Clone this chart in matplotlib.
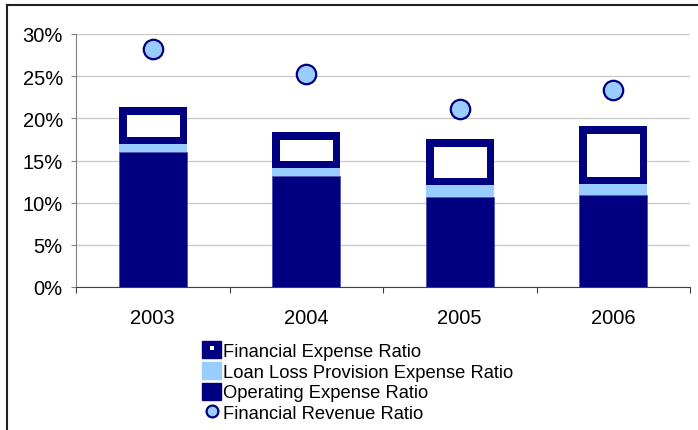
import matplotlib
matplotlib.use("Agg")
import matplotlib.pyplot as plt
from matplotlib.patches import Patch
from matplotlib.lines import Line2D
from matplotlib.legend_handler import HandlerTuple
from matplotlib.ticker import PercentFormatter, MultipleLocator, FixedLocator

plt.rcParams['font.family'] = ['Liberation Sans', 'DejaVu Sans']

years = ['2003', '2004', '2005', '2006']
operating = [16.0, 13.2, 10.65, 10.85]
loan_loss = [1.0, 0.9, 1.4, 1.35]
financial_expense = [4.4, 4.25, 5.5, 6.9]
financial_revenue = [28.2, 25.3, 21.1, 23.4]

NAVY = '#000080'
LIGHT = '#99CCFF'

fig = plt.figure(figsize=(6.98, 4.31), dpi=100)
ax = fig.add_axes([76/698, 1-288/431, (690-76)/698, (288-35)/431])

x = range(len(years))
w = 0.44
ax.bar(x, operating, width=w, color=NAVY, edgecolor='#5050B0', linewidth=0.6, zorder=3)
bottom2 = [o for o in operating]
ax.bar(x, loan_loss, width=w, bottom=bottom2, color=LIGHT, linewidth=0, zorder=3)
bottom3 = [o + l for o, l in zip(operating, loan_loss)]
bars = ax.bar(x, financial_expense, width=w, bottom=bottom3, facecolor='white',
              edgecolor=NAVY, linewidth=10.8, zorder=3)
for b in bars:
    b.set_clip_path(b)

ax.plot(x, financial_revenue, linestyle='none', marker='o', markersize=14,
        markerfacecolor=LIGHT, markeredgecolor=NAVY, markeredgewidth=1.6, zorder=4)

ax.set_xlim(-0.5, 3.5)
ax.set_ylim(0, 30)
ax.yaxis.set_major_locator(MultipleLocator(5))
ax.yaxis.set_major_formatter(PercentFormatter(decimals=0))
ax.set_xticks(list(x))
ax.set_xticklabels(years)
ax.xaxis.set_minor_locator(FixedLocator([-0.5, 0.5, 1.5, 2.5, 3.5]))
ax.tick_params(axis='x', which='major', length=0, pad=15, labelsize=14.5)
ax.tick_params(axis='x', which='minor', length=4, color='#404040', width=0.8)
ax.tick_params(axis='y', which='major', length=3.5, color='#808080', width=0.8, pad=6, labelsize=14.5)

ax.grid(axis='y', color='#C8C8C8', linewidth=0.9, zorder=0)
ax.set_axisbelow(True)
for s in ['top', 'right']:
    ax.spines[s].set_visible(False)
ax.spines['left'].set_color('#808080')
ax.spines['bottom'].set_color('#404040')
ax.spines['left'].set_linewidth(0.8)
ax.spines['bottom'].set_linewidth(0.8)

# outer frame (left & top visible)
fig.add_artist(Line2D([7.5/698, 7.5/698], [0, 1-6/431], color='#202020', linewidth=1.5, transform=fig.transFigure))
fig.add_artist(Line2D([7.5/698, 1], [1-6/431, 1-6/431], color='#202020', linewidth=1.5, transform=fig.transFigure))

h_fin = (Patch(facecolor=NAVY, edgecolor=NAVY),
         Line2D([], [], linestyle='none', marker='s', markersize=2.2, markerfacecolor='white', markeredgewidth=0))
h_loan = Patch(facecolor=LIGHT, edgecolor=LIGHT)
h_op = Patch(facecolor=NAVY, edgecolor=NAVY)
h_rev = Line2D([], [], linestyle='none', marker='o', markersize=8.5, markerfacecolor=LIGHT,
               markeredgecolor=NAVY, markeredgewidth=1.6)
fig.legend([h_fin, h_loan, h_op, h_rev],
           ['Financial Expense Ratio', 'Loan Loss Provision Expense Ratio',
            'Operating Expense Ratio', 'Financial Revenue Ratio'],
           handler_map={tuple: HandlerTuple(ndivide=1, pad=0)},
           loc='upper left', bbox_to_anchor=(202/698, 1-342/431), frameon=False,
           fontsize=13.2, handlelength=1.05, handleheight=1.05, handletextpad=0.12,
           labelspacing=0.11, borderpad=0, borderaxespad=0)

fig.savefig('out.png', dpi=100)
